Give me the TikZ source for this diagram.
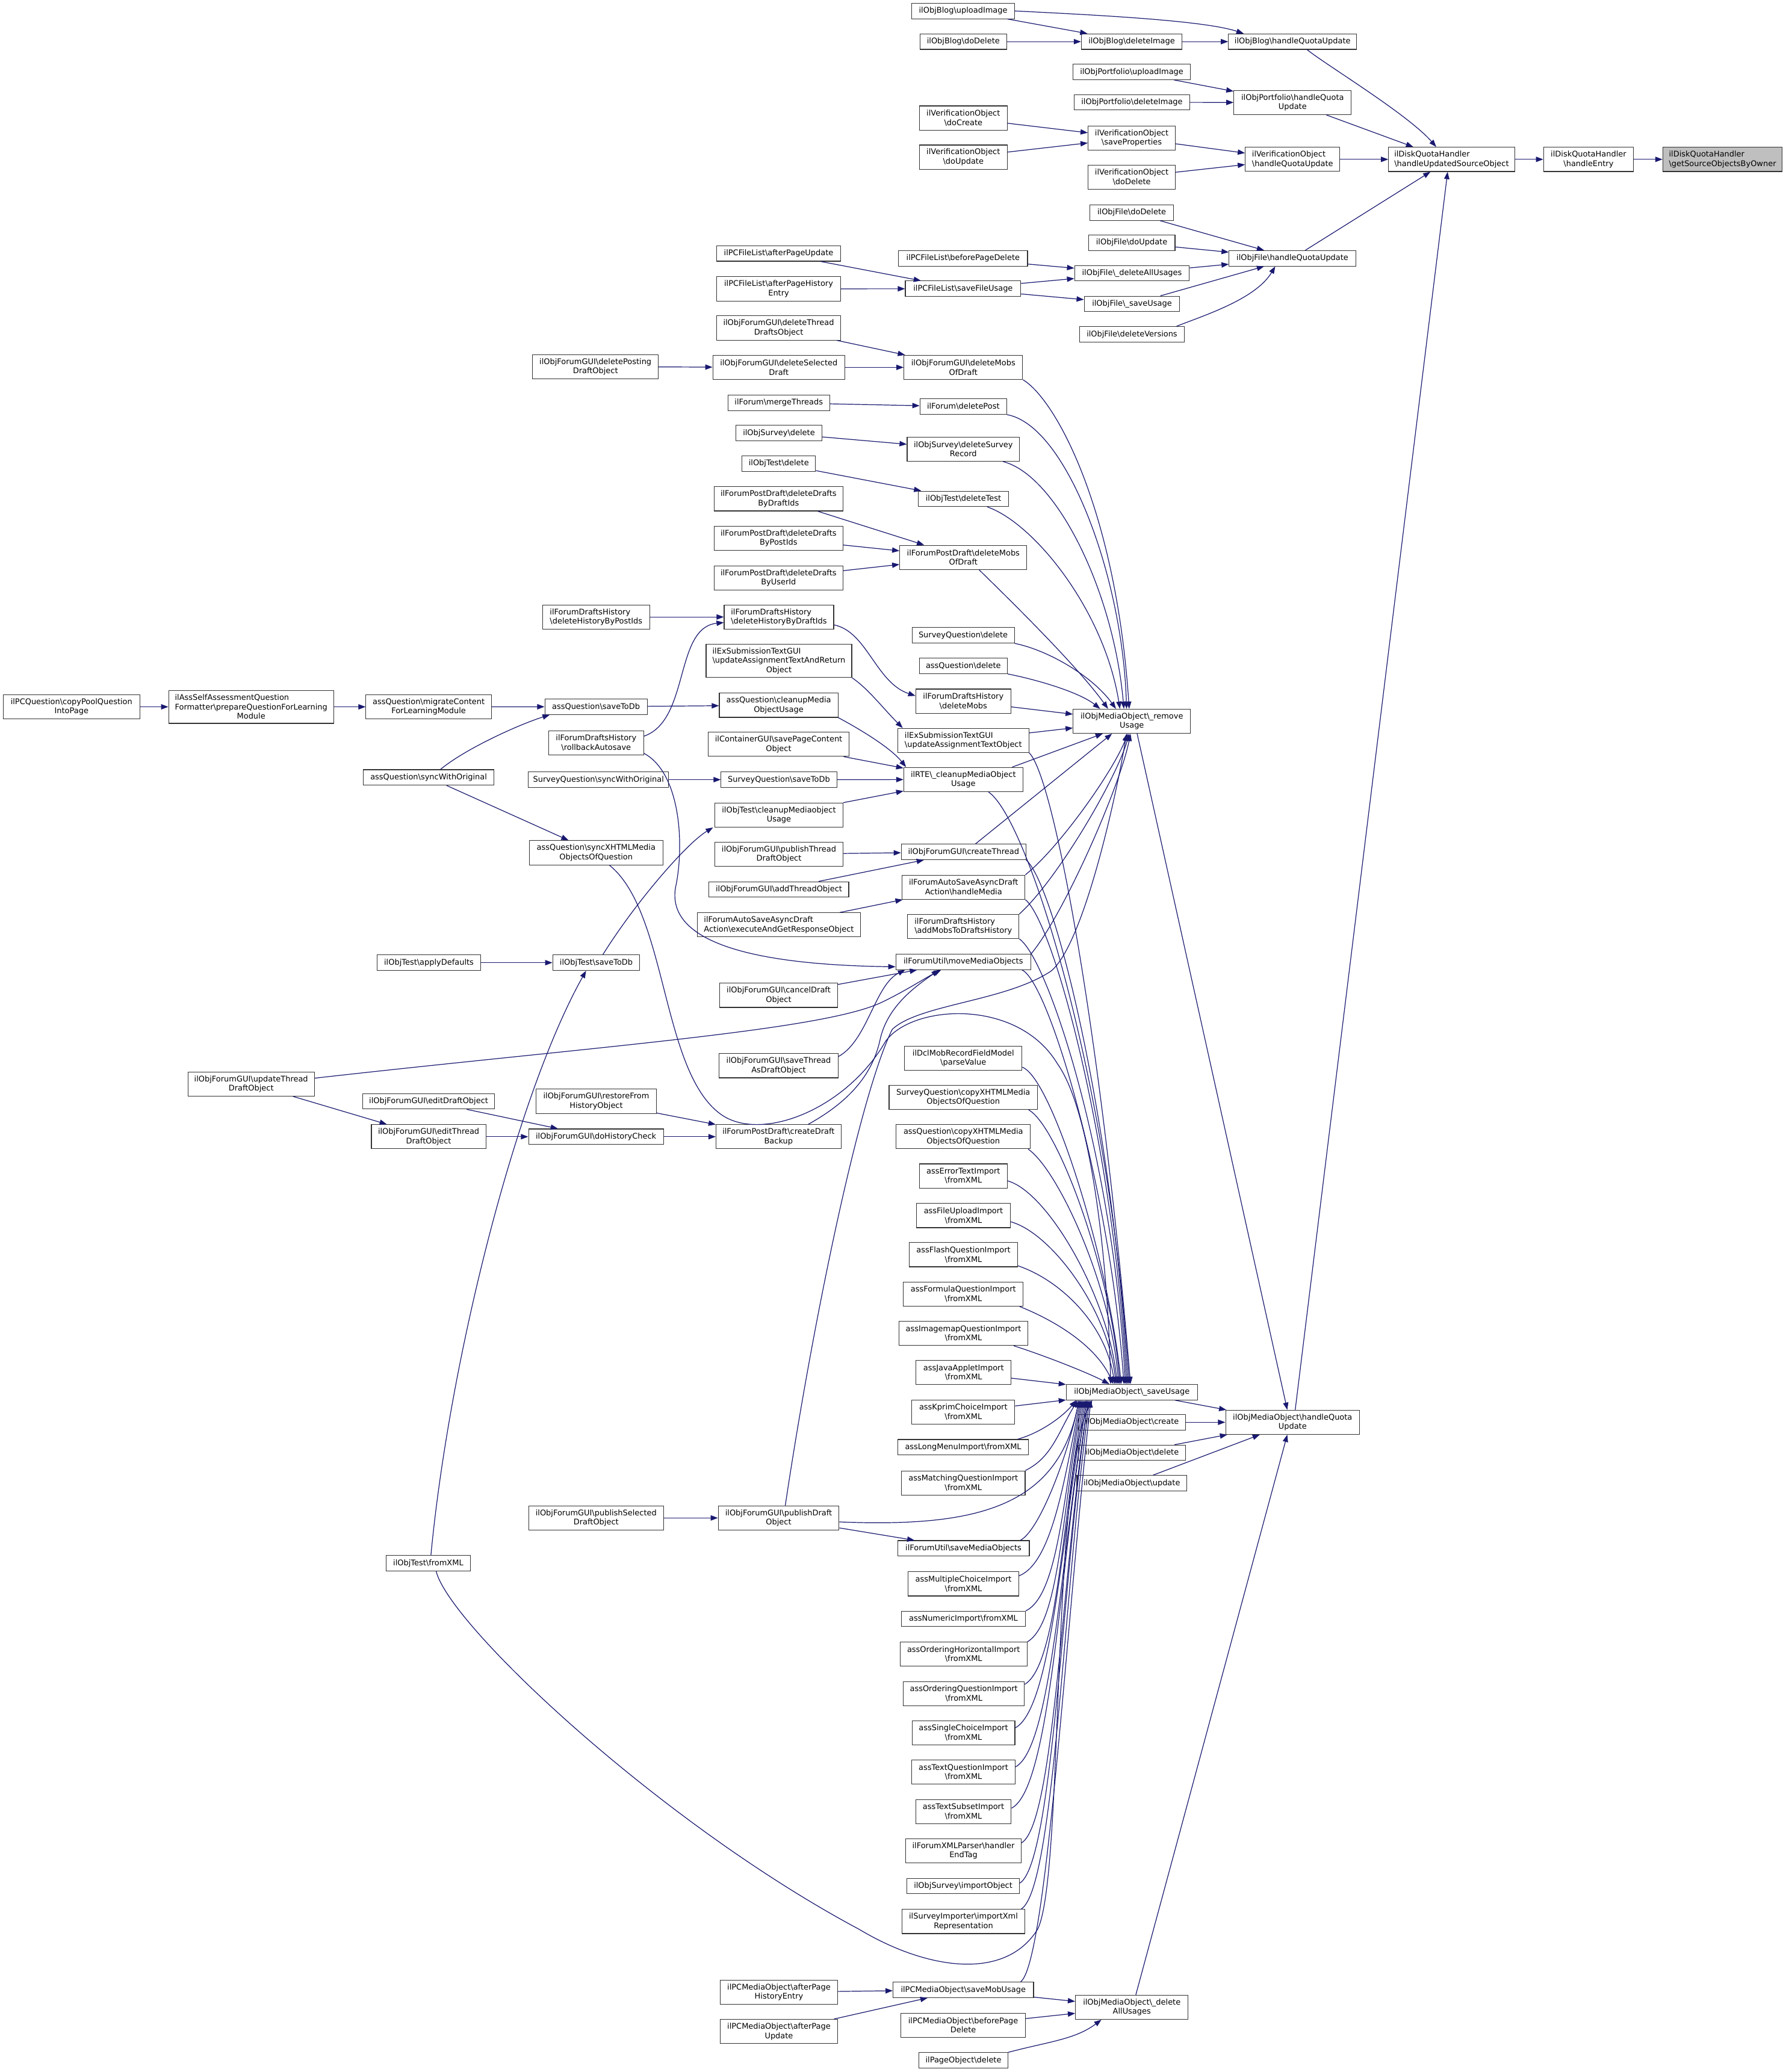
\documentclass[tikz,border=0pt]{standalone}
\usepackage{fontspec}
\setmainfont{DejaVu Sans}
\usetikzlibrary{arrows.meta}
\definecolor{edgeblue}{HTML}{191970}
\definecolor{srcgray}{HTML}{BFBFBF}
\newcommand\bsl{\textbackslash}
\newcommand\leftln[2]{\rlap{#1}\phantom{#2}}
\newcommand\gnode[7][]{\node[gbox,minimum width=#5pt,minimum height=#6pt,#1] (#2) at (#3,#4) {#7};}
\begin{document}
\begin{tikzpicture}[x=1pt,y=-1pt,
  gbox/.style={draw=black!80, line width=0.5pt, inner sep=0pt, align=center, font=\fontsize{5.9}{7.1}\selectfont},
  edg/.style={draw=edgeblue, line width=0.55pt, -{Triangle[length=5.5pt,width=4pt]}}]
\useasboundingbox (0,0) rectangle (1351,1568);

% ---------- nodes ----------
\gnode[fill=srcgray,align=left]{src0}{1303.2}{120.6}{90.3}{18.4}{ilDiskQuotaHandler\\\bsl getSourceObjectsByOwner}
\gnode{hEntry}{1201.8}{120.6}{68}{18.4}{ilDiskQuotaHandler\\\bsl handleEntry}
\gnode[align=left]{hUSO}{1098.2}{120.6}{95.3}{18.4}{ilDiskQuotaHandler\\\bsl handleUpdatedSourceObject}

\gnode{blogHQ}{977.9}{31.5}{97}{11.7}{ilObjBlog\bsl handleQuotaUpdate}
\gnode{portHQ}{977.9}{77.6}{88.8}{18.3}{ilObjPortfolio\bsl handleQuota\\Update}
\gnode[align=left]{verHQ}{977.9}{120.6}{71.5}{18.3}{ilVerificationObject\\\bsl handleQuotaUpdate}
\gnode{fileHQ}{977.8}{195.5}{95.8}{11.7}{ilObjFile\bsl handleQuotaUpdate}
\gnode{mobHQ}{977.9}{1076.3}{101.3}{18.3}{ilObjMediaObject\bsl handleQuota\\Update}

\gnode{blogDel}{856.2}{31.5}{76.2}{11.7}{ilObjBlog\bsl deleteImage}
\gnode{portUp}{856.2}{54.4}{89}{11.7}{ilObjPortfolio\bsl uploadImage}
\gnode{portDel}{856.4}{77.4}{87.6}{11.7}{ilObjPortfolio\bsl deleteImage}
\gnode{verSave}{856.2}{104.4}{66}{18.3}{ilVerificationObject\\\bsl saveProperties}
\gnode{verDoDel}{856.2}{134}{66}{18.3}{ilVerificationObject\\\bsl doDelete}
\gnode{fileDoDel}{856.2}{160.9}{63.4}{11.7}{ilObjFile\bsl doDelete}
\gnode{fileDoUp}{856.2}{183.7}{65.5}{11.7}{ilObjFile\bsl doUpdate}
\gnode{fileDelAll}{856.4}{206.8}{86.8}{11.7}{ilObjFile\bsl\_deleteAllUsages}
\gnode{fileSave}{856.4}{230}{72.3}{11.7}{ilObjFile\bsl\_saveUsage}
\gnode{fileDelVer}{856.4}{253}{79}{11.7}{ilObjFile\bsl deleteVersions}
\gnode{mobRemove}{856.3}{545.8}{88.8}{18.3}{ilObjMediaObject\bsl\_remove\\Usage}
\gnode{mobSave}{856.3}{1053.5}{99.2}{11.7}{ilObjMediaObject\bsl\_saveUsage}
\gnode{mobCreate}{856.4}{1076.3}{81.4}{11.7}{ilObjMediaObject\bsl create}
\gnode{mobDelete}{856.4}{1099.4}{81.4}{11.7}{ilObjMediaObject\bsl delete}
\gnode{mobUpdate}{856.3}{1122.4}{83.1}{11.7}{ilObjMediaObject\bsl update}
\gnode{mobDelAll}{856.3}{1519}{85.3}{18.3}{ilObjMediaObject\bsl\_delete\\AllUsages}

\gnode{blogUp}{728.7}{8.3}{77.9}{11.7}{ilObjBlog\bsl uploadImage}
\gnode{blogDoDel}{728.8}{31.5}{65.5}{11.7}{ilObjBlog\bsl doDelete}
\gnode{verCreate}{728.8}{89.3}{66.3}{18.3}{ilVerificationObject\\\bsl doCreate}
\gnode{verUpdate}{728.8}{118.9}{66.3}{18.3}{ilVerificationObject\\\bsl doUpdate}
\gnode{pcflBefore}{728.6}{195.5}{97.6}{11.7}{ilPCFileList\bsl beforePageDelete}
\gnode{pcflSave}{728.6}{218.5}{87.3}{11.7}{ilPCFileList\bsl saveFileUsage}
\gnode{fguiDelMobs}{728.8}{278}{89.8}{18.3}{ilObjForumGUI\bsl deleteMobs\\OfDraft}
\gnode{forumDelPost}{728.8}{307.7}{65.6}{11.7}{ilForum\bsl deletePost}
\gnode{survDelRec}{728.8}{339.9}{85}{18.3}{ilObjSurvey\bsl deleteSurvey\\Record}
\gnode{testDelTest}{728.9}{377.5}{68.3}{11.7}{ilObjTest\bsl deleteTest}
\gnode{pdDelMobs}{728.8}{421.8}{96.2}{18.3}{ilForumPostDraft\bsl deleteMobs\\OfDraft}
\gnode{sqDelete}{728.7}{480.8}{77.4}{11.7}{SurveyQuestion\bsl delete}
\gnode{aqDelete}{728.8}{503.9}{66.7}{11.7}{assQuestion\bsl delete}
\gnode{dhDelMobs}{728.8}{530.6}{71.9}{18.3}{ilForumDraftsHistory\\\bsl deleteMobs}
\gnode[align=left]{exUpdText}{728.8}{560.3}{99.2}{18.3}{ilExSubmissionTextGUI\\\bsl updateAssignmentTextObject}
\gnode{rteCleanup}{728.8}{589.9}{90.1}{18.3}{ilRTE\bsl\_cleanupMediaObject\\Usage}
\gnode{fguiCreate}{729}{644.7}{94.3}{11.7}{ilObjForumGUI\bsl createThread}
\gnode{asHandle}{729}{671.4}{93}{18.3}{ilForumAutoSaveAsyncDraft\\Action\bsl handleMedia}
\gnode[align=left]{dhAddMobs}{728.8}{701.1}{84.2}{18.3}{ilForumDraftsHistory\\\bsl addMobsToDraftsHistory}
\gnode{fuMove}{728.8}{727.9}{102.1}{11.7}{ilForumUtil\bsl moveMediaObjects}
\gnode{dclParse}{728.8}{800.9}{88.8}{18.3}{ilDclMobRecordFieldModel\\\bsl parseValue}
\gnode{sqCopy}{728.8}{830.5}{112.3}{18.3}{SurveyQuestion\bsl copyXHTMLMedia\\ObjectsOfQuestion}
\gnode{aqCopy}{728.8}{860.2}{101.6}{18.3}{assQuestion\bsl copyXHTMLMedia\\ObjectsOfQuestion}
\gnode{impErr}{728.8}{889.9}{66.3}{18.3}{assErrorTextImport\\\bsl fromXML}
\gnode{impFile}{728.9}{919.9}{71}{18.3}{assFileUploadImport\\\bsl fromXML}
\gnode{impFlash}{728.9}{949.5}{82}{18.3}{assFlashQuestionImport\\\bsl fromXML}
\gnode{impFormula}{728.8}{979.3}{90.7}{18.3}{assFormulaQuestionImport\\\bsl fromXML}
\gnode{impImagemap}{728.9}{1009}{97.5}{18.3}{assImagemapQuestionImport\\\bsl fromXML}
\gnode{impJava}{729}{1038.7}{71.8}{18.3}{assJavaAppletImport\\\bsl fromXML}
\gnode{impKprim}{728.8}{1068.6}{77.9}{18.3}{assKprimChoiceImport\\\bsl fromXML}
\gnode{impLongMenu}{728.7}{1095.2}{98.9}{11.7}{assLongMenuImport\bsl fromXML}
\gnode{impMatching}{728.8}{1122.2}{93.5}{18.3}{assMatchingQuestionImport\\\bsl fromXML}
\gnode{fuSaveMO}{728.9}{1171.7}{99.7}{11.7}{ilForumUtil\bsl saveMediaObjects}
\gnode{impMC}{728.9}{1198.6}{83.7}{18.3}{assMultipleChoiceImport\\\bsl fromXML}
\gnode{impNumeric}{728.9}{1225.1}{93.8}{11.7}{assNumericImport\bsl fromXML}
\gnode{impOrdH}{729}{1251.8}{96.2}{18.3}{assOrderingHorizontalImport\\\bsl fromXML}
\gnode{impOrdQ}{729.2}{1281.6}{91.7}{18.3}{assOrderingQuestionImport\\\bsl fromXML}
\gnode{impSC}{728.9}{1311.3}{77.8}{18.3}{assSingleChoiceImport\\\bsl fromXML}
\gnode{impTextQ}{728.9}{1341.1}{78.3}{18.3}{assTextQuestionImport\\\bsl fromXML}
\gnode{impTextSub}{728.9}{1370.9}{72.3}{18.3}{assTextSubsetImport\\\bsl fromXML}
\gnode{xmlParser}{728.9}{1400.6}{87.4}{18.3}{ilForumXMLParser\bsl handler\\EndTag}
\gnode{survImport}{728.7}{1427.3}{85}{11.7}{ilObjSurvey\bsl importObject}
\gnode{survImporter}{728.9}{1454.1}{92.8}{18.3}{ilSurveyImporter\bsl importXml\\Representation}
\gnode{pcmSaveMob}{728.8}{1505.8}{106.3}{11.7}{ilPCMediaObject\bsl saveMobUsage}
\gnode{pcmBefore}{728.7}{1532.6}{94}{18.3}{ilPCMediaObject\bsl beforePage\\Delete}
\gnode{pageDelete}{728.9}{1559.2}{67.3}{11.7}{ilPageObject\bsl delete}

\gnode{pcflAfterUp}{589.1}{191.8}{93.5}{11.7}{ilPCFileList\bsl afterPageUpdate}
\gnode{pcflAfterHist}{589.1}{218.6}{93.5}{18.3}{ilPCFileList\bsl afterPageHistory\\Entry}
\gnode{fguiDelThread}{589.1}{248.2}{94}{18.3}{ilObjForumGUI\bsl deleteThread\\DraftsObject}
\gnode{fguiDelSel}{589.2}{278}{99.8}{18.3}{ilObjForumGUI\bsl deleteSelected\\Draft}
\gnode{forumMerge}{589.2}{304.8}{77.1}{11.7}{ilForum\bsl mergeThreads}
\gnode{survDelete}{589.3}{327.8}{65.2}{11.7}{ilObjSurvey\bsl delete}
\gnode{testDelete}{589.2}{350.8}{55.7}{11.7}{ilObjTest\bsl delete}
\gnode{pdByDraft}{589}{377.5}{97.6}{18.3}{ilForumPostDraft\bsl deleteDrafts\\ByDraftIds}
\gnode{pdByPost}{589}{407.4}{97.6}{18.3}{ilForumPostDraft\bsl deleteDrafts\\ByPostIds}
\gnode{pdByUser}{589}{437.3}{97.6}{18.3}{ilForumPostDraft\bsl deleteDrafts\\ByUserId}
\gnode[align=left]{dhByDraft}{589.3}{466.9}{82.9}{18.3}{ilForumDraftsHistory\\\bsl deleteHistoryByDraftIds}
\gnode{exUpdRet}{589.3}{500.2}{110.2}{25}{\leftln{ilExSubmissionTextGUI}{\bsl updateAssignmentTextAndReturn}\\\bsl updateAssignmentTextAndReturn\\Object}
\gnode{aqCleanup}{589.1}{533.7}{89.8}{18.3}{assQuestion\bsl cleanupMedia\\ObjectUsage}
\gnode{contSave}{589.1}{563.2}{106.7}{18.3}{ilContainerGUI\bsl savePageContent\\Object}
\gnode{sqSaveToDb}{589.3}{590}{87.5}{11.7}{SurveyQuestion\bsl saveToDb}
\gnode{testCleanup}{589.3}{616.8}{97.2}{18.3}{ilObjTest\bsl cleanupMediaobject\\Usage}
\gnode{fguiPubThread}{589.3}{646.5}{97.2}{18.3}{ilObjForumGUI\bsl publishThread\\DraftObject}
\gnode{fguiAddThread}{589.3}{673.1}{105.7}{11.7}{ilObjForumGUI\bsl addThreadObject}
\gnode[align=left]{asExec}{589.3}{699.9}{123.3}{18.3}{ilForumAutoSaveAsyncDraft\\Action\bsl executeAndGetResponseObject}
\gnode{fguiCancel}{589.1}{753.2}{89.1}{18.3}{ilObjForumGUI\bsl cancelDraft\\Object}
\gnode{fguiSaveThread}{589.1}{806.5}{90}{18.3}{ilObjForumGUI\bsl saveThread\\AsDraftObject}
\gnode{pdCreateBackup}{589}{860.2}{94.5}{18.3}{ilForumPostDraft\bsl createDraft\\Backup}
\gnode{fguiPubDraft}{589.1}{1148.7}{91.4}{18.3}{ilObjForumGUI\bsl publishDraft\\Object}
\gnode{pcmAfterHist}{589.3}{1507.6}{88.9}{18.3}{ilPCMediaObject\bsl afterPage\\HistoryEntry}
\gnode{pcmAfterUp}{589.3}{1537.3}{88.9}{18.3}{ilPCMediaObject\bsl afterPage\\Update}

\gnode{fguiDelPosting}{450.5}{277.5}{95}{18.3}{ilObjForumGUI\bsl deletePosting\\DraftObject}
\gnode[align=left]{dhByPost}{451}{466.9}{80.9}{18.3}{ilForumDraftsHistory\\\bsl deleteHistoryByPostIds}
\gnode{aqSaveToDb}{450.9}{534.8}{77.4}{11.7}{assQuestion\bsl saveToDb}
\gnode{dhRollback}{451}{562.1}{71.9}{18.3}{ilForumDraftsHistory\\\bsl rollbackAutosave}
\gnode{sqSync}{452.8}{590}{106.1}{11.7}{SurveyQuestion\bsl syncWithOriginal}
\gnode{aqSyncXHTML}{451}{645.3}{101.1}{18.3}{assQuestion\bsl syncXHTMLMedia\\ObjectsOfQuestion}
\gnode{testSaveToDb}{451.1}{728.5}{65.8}{11.7}{ilObjTest\bsl saveToDb}
\gnode{fguiRestore}{451.1}{833.4}{90.8}{18.3}{ilObjForumGUI\bsl restoreFrom\\HistoryObject}
\gnode{fguiDoHist}{450.9}{860.2}{102}{11.7}{ilObjForumGUI\bsl doHistoryCheck}
\gnode{fguiPubSel}{451}{1148.7}{102.1}{18.3}{ilObjForumGUI\bsl publishSelected\\DraftObject}

\gnode{aqMigrate}{324.3}{534.9}{94.9}{18.3}{assQuestion\bsl migrateContent\\ForLearningModule}
\gnode{aqSyncOrig}{324.3}{588.3}{99}{11.7}{assQuestion\bsl syncWithOriginal}
\gnode{testApply}{324.5}{728.5}{78.7}{11.7}{ilObjTest\bsl applyDefaults}
\gnode{fguiEditDraft}{324.3}{833.4}{99.8}{11.7}{ilObjForumGUI\bsl editDraftObject}
\gnode{fguiEditThread}{324.3}{860.2}{86.6}{18.3}{ilObjForumGUI\bsl editThread\\DraftObject}
\gnode{testFromXML}{324}{1183}{64}{11.7}{ilObjTest\bsl fromXML}

\gnode{assFormatter}{190}{534.9}{124.8}{25}{\leftln{ilAssSelfAssessmentQuestion}{Formatter\bsl prepareQuestionForLearning}\\Formatter\bsl prepareQuestionForLearning\\Module}
\gnode{fguiUpdThread}{190}{820.3}{95.7}{18.3}{ilObjForumGUI\bsl updateThread\\DraftObject}
\gnode{pcQuestion}{54.1}{534.9}{103.2}{18.3}{ilPCQuestion\bsl copyPoolQuestion\\IntoPage}

% ---------- edges: top part ----------
\draw[edg] (hEntry) -- (src0);
\draw[edg] (hUSO) -- (hEntry);
\draw[edg] (portHQ) -- ([xshift=-29pt]hUSO.north);
\draw[edg] (verHQ) -- (hUSO);
\draw[edg] (fileHQ) -- ([xshift=-16pt]hUSO.south);
\draw[edg] ([xshift=11pt]blogHQ.south) .. controls +(15,12) and +(-22,-25) .. ([xshift=-11.6pt]hUSO.north);
\draw[edg] ([xshift=2pt]mobHQ.north) -- ([xshift=-3pt]hUSO.south);
\draw[edg] (blogDel) -- (blogHQ);
\draw[edg] (blogUp.east) .. controls +(60,3) and +(-30,-10) .. ([xshift=-37pt]blogHQ.north);
\draw[edg] (blogUp) -- (blogDel);
\draw[edg] (blogDoDel) -- (blogDel);
\draw[edg] (portUp) -- (portHQ);
\draw[edg] (portDel) -- (portHQ);
\draw[edg] (verCreate) -- (verSave);
\draw[edg] (verUpdate) -- (verSave);
\draw[edg] (verSave) -- (verHQ);
\draw[edg] (verDoDel) -- (verHQ);
\draw[edg] (fileDoDel) -- (fileHQ);
\draw[edg] (fileDoUp) -- (fileHQ);
\draw[edg] (fileDelAll) -- (fileHQ);
\draw[edg] (fileSave) -- (fileHQ);
\draw[edg] ([xshift=-6pt]fileDelVer.north east) .. controls +(20,-8) and +(-15,25) .. ([xshift=-13pt]fileHQ.south);
\draw[edg] (pcflBefore) -- (fileDelAll);
\draw[edg] (pcflSave) -- (fileDelAll);
\draw[edg] (pcflSave) -- (fileSave);
\draw[edg] (pcflAfterUp) -- (pcflSave);
\draw[edg] (pcflAfterHist) -- (pcflSave);

% ---------- edges: forum / remove usage ----------
\draw[edg] (fguiDelThread) -- (fguiDelMobs);
\draw[edg] (fguiDelSel) -- (fguiDelMobs);
\draw[edg] (fguiDelPosting) -- (fguiDelSel);
\draw[edg] (forumMerge) -- (forumDelPost);
\draw[edg] (survDelete) -- (survDelRec);
\draw[edg] (testDelete) -- (testDelTest);
\draw[edg] (pdByDraft) -- (pdDelMobs);
\draw[edg] (pdByPost) -- (pdDelMobs);
\draw[edg] (pdByUser) -- (pdDelMobs);
\draw[edg] (dhByPost) -- (dhByDraft);

\draw[edg] (fguiDelMobs.south east) .. controls +(25,15) and +(-10,-150) .. ([xshift=-2pt]mobRemove.north);
\draw[edg] (forumDelPost.south east) .. controls +(45,8) and +(-3,-100) .. ([xshift=-4pt]mobRemove.north);
\draw[edg] ([xshift=30pt]survDelRec.south) .. controls +(40,10) and +(-8,-90) .. ([xshift=-6pt]mobRemove.north);
\draw[edg] ([xshift=18pt]testDelTest.south) .. controls +(35,12) and +(-12,-75) .. ([xshift=-9pt]mobRemove.north);
\draw[edg] ([xshift=12pt]pdDelMobs.south) .. controls +(12,12) and +(-25,-35) .. ([xshift=-18pt]mobRemove.north);
\draw[edg] (sqDelete.south east) .. controls +(25,5) and +(-18,-25) .. ([xshift=-12pt]mobRemove.north);
\draw[edg] (aqDelete.south east) .. controls +(25,5) and +(-15,-12) .. ([xshift=-24pt]mobRemove.north);
\draw[edg] (dhDelMobs) -- (mobRemove);
\draw[edg] (exUpdText) -- (mobRemove);
\draw[edg] ([xshift=37pt]rteCleanup.north) -- ([xshift=-22pt]mobRemove.south);
\draw[edg] ([xshift=9pt]fguiCreate.north) -- ([xshift=-15pt]mobRemove.south);
\draw[edg] (asHandle.north east) .. controls +(25,-20) and +(-12,30) .. ([xshift=-3pt]mobRemove.south);
\draw[edg] (dhAddMobs.north east) .. controls +(28,-25) and +(-10,35) .. ([xshift=-2pt]mobRemove.south);
\draw[edg] (fuMove.north east) .. controls +(25,-30) and +(-8,40) .. ([xshift=-1pt]mobRemove.south);
\draw[edg] ([xshift=5pt]fguiPubDraft.north) .. controls (615,1000) and (650,830) .. (675,779) .. controls (695,760) and (760,758) .. (795,735) .. controls (820,715) and (845,600) .. ([xshift=-4pt]mobRemove.south);
\draw[edg] ([xshift=4pt]mobRemove.south) -- ([xshift=-4pt]mobHQ.north);

\draw[edg] ([yshift=-6pt]dhByDraft.east) .. controls +(25,5) and +(-30,-10) .. ([yshift=4pt]dhDelMobs.west);
\draw[edg] (exUpdRet.south east) .. controls +(12,8) and +(-15,-15) .. ([xshift=4pt]exUpdText.north west);
\draw[edg] (aqSaveToDb) -- (aqCleanup);
\draw[edg] (aqCleanup.south east) .. controls +(15,8) and +(-12,-15) .. ([xshift=2pt]rteCleanup.north west);
\draw[edg] (contSave) -- (rteCleanup);
\draw[edg] (sqSaveToDb) -- (rteCleanup);
\draw[edg] (sqSync) -- (sqSaveToDb);
\draw[edg] (testCleanup) -- (rteCleanup);
\draw[edg] ([xshift=5pt]testSaveToDb.north) .. controls +(25,-40) and +(-20,12) .. ([xshift=-1pt]testCleanup.south west);
\draw[edg] ([xshift=2pt]testFromXML.north) .. controls (340,1030) and (390,830) .. ([xshift=-7.7pt]testSaveToDb.south);
\draw[edg] (testApply) -- (testSaveToDb);
\draw[edg] (fguiPubThread) -- (fguiCreate);
\draw[edg] (fguiAddThread) -- (fguiCreate);
\draw[edg] (asExec) -- (asHandle);
\draw[edg] ([yshift=5pt]dhRollback.east) .. controls (522,545) and (510,475) .. ([yshift=-4.2pt]dhByDraft.west);
\draw[edg] ([yshift=-8pt]dhRollback.east) .. controls (515,585) and (518,640) .. (511,672) .. controls (505,710) and (560,730) .. ([yshift=-3.7pt]fuMove.west);
\draw[edg] (pcQuestion) -- (assFormatter);
\draw[edg] (assFormatter) -- (aqMigrate);
\draw[edg] (aqMigrate) -- (aqSaveToDb);
\draw[edg] ([xshift=9pt]aqSyncOrig.north) .. controls +(18,-15) and +(-25,8) .. ([xshift=4pt]aqSaveToDb.south west);
\draw[edg] (aqSyncOrig) -- (aqSyncXHTML);
\draw[edg] (fguiUpdThread) -- (fguiEditThread);
\draw[edg] ([yshift=4.4pt]fguiUpdThread.east) .. controls (450,792) and (620,780) .. (666,759) .. controls (685,750) and (700,740) .. ([xshift=-16.8pt]fuMove.south);
\draw[edg] (fguiCancel) -- ([xshift=-35pt]fuMove.south);
\draw[edg] ([yshift=7pt]fguiSaveThread.east) .. controls +(22,-12) and (662,745) .. ([xshift=-44pt]fuMove.south);
\draw[edg] ([xshift=22.5pt]pdCreateBackup.north) .. controls (640,835) and (660,815) .. (666,786) .. controls (672,760) and (695,745) .. ([xshift=-18.5pt]fuMove.south);
\draw[edg] (fguiDoHist) -- (pdCreateBackup);
\draw[edg] (fguiRestore) -- (pdCreateBackup);
\draw[edg] (fguiEditDraft) -- (fguiDoHist);
\draw[edg] (fguiEditThread) -- (fguiDoHist);
\draw[edg] (fguiPubSel) -- (fguiPubDraft);
\draw[edg] (fguiPubDraft) -- (fuSaveMO);

% ---------- edges: into _saveUsage from above ----------
\draw[edg] (exUpdText.south east) .. controls +(20,20) and (835,800) .. ([xshift=-1pt]mobSave.north);
\draw[edg] ([xshift=19pt]rteCleanup.south) .. controls +(30,20) and (840,820) .. ([xshift=-2pt]mobSave.north);
\draw[edg] (fguiCreate.south east) .. controls +(22,20) and (842,850) .. ([xshift=-3pt]mobSave.north);
\draw[edg] (asHandle.south east) .. controls +(22,18) and (843,870) .. ([xshift=-4pt]mobSave.north);
\draw[edg] (dhAddMobs.south east) .. controls +(22,15) and (843,880) .. ([xshift=-5pt]mobSave.north);
\draw[edg] ([xshift=-7pt]fuMove.south east) .. controls +(20,8) and (840,900) .. ([xshift=-6pt]mobSave.north);
\draw[edg] ([xshift=10pt]aqSyncXHTML.south) .. controls (505,690) and (500,810) .. (545,843) .. controls (575,865) and (640,840) .. (670,788) .. controls (690,760) and (770,755) .. (800,805) .. controls (825,840) and (838,950) .. ([xshift=-16pt]mobSave.north);
\draw[edg] ([yshift=-6.7pt]dclParse.east) .. controls +(22,8) and (838,950) .. ([xshift=-8pt]mobSave.north);
\draw[edg] ([xshift=-7pt]sqCopy.south east) .. controls +(22,12) and (840,960) .. ([xshift=-9pt]mobSave.north);
\draw[edg] ([xshift=-2pt]aqCopy.south east) .. controls +(22,15) and (840,970) .. ([xshift=-10pt]mobSave.north);
\draw[edg] ([yshift=-3.7pt]impErr.east) .. controls +(30,8) and (838,980) .. ([xshift=-11pt]mobSave.north);
\draw[edg] ([yshift=-4.7pt]impFile.east) .. controls +(30,8) and (838,990) .. ([xshift=-12pt]mobSave.north);
\draw[edg] ([yshift=-8.4pt]impFlash.east) .. controls +(30,10) and (836,1000) .. ([xshift=-13pt]mobSave.north);
\draw[edg] ([xshift=-3pt]impFormula.south east) .. controls +(30,12) and (830,1020) .. ([xshift=-14pt]mobSave.north);
\draw[edg] ([xshift=-11pt]impImagemap.south east) .. controls +(25,8) and +(-15,-8) .. ([xshift=-17pt]mobSave.north);
\draw[edg] (impJava) -- (mobSave);
\draw[edg] (impKprim) -- (mobSave);

% ---------- edges: into _saveUsage from below ----------
\draw[edg] ([xshift=-8.5pt]impLongMenu.north east) .. controls +(18,-5) and +(-10,12) .. ([xshift=-42pt]mobSave.south);
\draw[edg] (impMatching.north east) .. controls +(20,-10) and +(-15,25) .. ([xshift=-41pt]mobSave.south);
\draw[edg] ([yshift=-3pt]fguiPubDraft.east) .. controls (740,1156) and (800,1140) .. ([xshift=-40pt]mobSave.south);
\draw[edg] ([xshift=-7pt]fuSaveMO.north east) .. controls +(15,-8) and +(-8,40) .. ([xshift=-40pt]mobSave.south);
\draw[edg] ([yshift=6.1pt]impMC.east) .. controls +(25,-10) and +(-12,60) .. ([xshift=-39pt]mobSave.south);
\draw[edg] (impNumeric.north east) .. controls +(25,-12) and +(-14,70) .. ([xshift=-38pt]mobSave.south);
\draw[edg] (impOrdH.north east) .. controls +(25,-15) and +(-16,80) .. ([xshift=-37pt]mobSave.south);
\draw[edg] ([yshift=7pt]impOrdQ.east) .. controls +(25,-15) and +(-17,90) .. ([xshift=-36pt]mobSave.south);
\draw[edg] ([yshift=3.7pt]impSC.east) .. controls +(28,-15) and +(-18,100) .. ([xshift=-35pt]mobSave.south);
\draw[edg] ([yshift=4pt]impTextQ.east) .. controls +(28,-15) and +(-19,110) .. ([xshift=-34pt]mobSave.south);
\draw[edg] ([yshift=2.6pt]impTextSub.east) .. controls +(30,-15) and +(-20,120) .. ([xshift=-34pt]mobSave.south);
\draw[edg] ([yshift=6pt]xmlParser.east) .. controls +(25,-15) and +(-20,130) .. ([xshift=-33pt]mobSave.south);
\draw[edg] ([yshift=2.2pt]survImport.east) .. controls +(25,-15) and +(-20,140) .. ([xshift=-33pt]mobSave.south);
\draw[edg] ([xshift=-3pt]survImporter.north east) .. controls +(25,-15) and +(-20,150) .. ([xshift=-32pt]mobSave.south);
\draw[edg] ([xshift=-10pt]pcmSaveMob.north east) .. controls +(20,-15) and +(-18,160) .. ([xshift=-31pt]mobSave.south);
\draw[edg] ([xshift=6pt]testFromXML.south) .. controls (340,1230) and (500,1380) .. (650,1460) .. controls (700,1490) and (760,1500) .. (785,1460) .. controls (805,1420) and (795,1120) .. ([xshift=-30pt]mobSave.south);

% ---------- edges: quota update of media objects ----------
\draw[edg] (mobSave) -- (mobHQ);
\draw[edg] (mobCreate) -- (mobHQ);
\draw[edg] (mobDelete) -- (mobHQ);
\draw[edg] (mobUpdate) -- (mobHQ);
\draw[edg] ([xshift=3pt]mobDelAll.north) -- ([xshift=-4pt]mobHQ.south);
\draw[edg] (pcmSaveMob) -- (mobDelAll);
\draw[edg] (pcmBefore) -- (mobDelAll);
\draw[edg] (pcmAfterHist) -- (pcmSaveMob);
\draw[edg] (pcmAfterUp) -- (pcmSaveMob);
\draw[edg] (pageDelete.north east) .. controls +(30,-8) and +(-20,15) .. ([xshift=-23pt]mobDelAll.south);
\end{tikzpicture}
\end{document}
